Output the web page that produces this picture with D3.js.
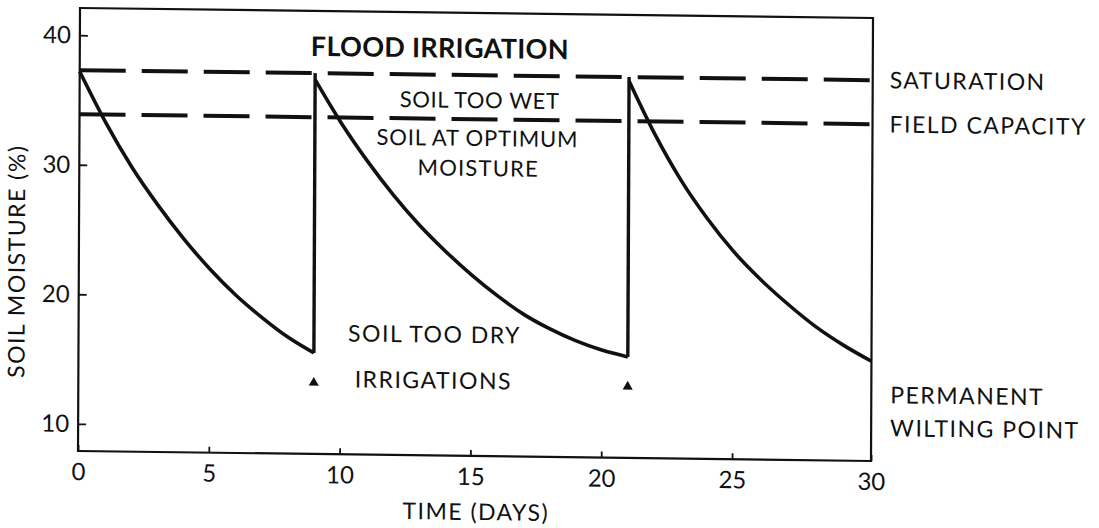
<!DOCTYPE html>
<html>
<head>
<meta charset="utf-8">
<script src="https://cdn.jsdelivr.net/npm/d3@7"></script>
<style>
  html, body { margin: 0; padding: 0; background: #fff; }
  svg { display: block; }
  text { font-family: Lato, "Open Sans", sans-serif; fill: #111; }
</style>
</head>
<body>
<div id="chart"></div>
<script>
// ---- data ----
const xTicks = [0, 5, 10, 15, 20, 25, 30];
const yTicks = [10, 20, 30, 40];
const saturation = 37.3;
const fieldCapacity = 33.9;
const irrigationDays = [9, 21];
const irrigationMarkerLevel = 13.4;

const cycle1Days  = [0, 1, 2, 3, 4, 5, 6, 7, 8, 9];
const cycle1Moist = [37.2, 33.3, 29.9, 27.0, 24.4, 22.1, 20.1, 18.4, 16.9, 15.7];
const cycle2Days  = [9, 10, 11, 12, 13, 14, 15, 16, 17, 18, 19, 20, 21];
const cycle2Moist = [36.8, 33.5, 30.6, 28.0, 25.7, 23.7, 21.9, 20.3, 18.9, 17.8, 16.9, 16.2, 15.7];
const cycle3Days  = [21, 22, 23, 24, 25, 26, 27, 28, 29, 30];
const cycle3Moist = [37.0, 32.9, 29.4, 26.5, 24.0, 21.8, 19.9, 18.2, 16.8, 15.6];

// ---- layout ----
const W = 1099, H = 528;
const pw = 793, ph = 443;
const FONT = "Lato, 'Open Sans', sans-serif";

const svg = d3.select("#chart").append("svg")
  .attr("width", W).attr("height", H);
svg.append("rect").attr("width", W).attr("height", H).attr("fill", "#fff");

// slight shear to match the scanned figure
const g = svg.append("g")
  .attr("transform", "matrix(1,0.0126,-0.0045,1,80,8)");

const x = d3.scaleLinear().domain([0, 25, 30]).range([0, 654, pw]);
const y = d3.scaleLinear().domain([7.9, 42.1]).range([ph, 0]);

// frame
g.append("rect").attr("x", 0).attr("y", 0).attr("width", pw).attr("height", ph)
  .attr("fill", "none").attr("stroke", "#111").attr("stroke-width", 2.2);

// axes
const yAxis = g.append("g")
  .call(d3.axisLeft(y).tickValues(yTicks).tickSizeInner(-8).tickSizeOuter(0).tickPadding(9));
const xAxis = g.append("g").attr("transform", `translate(0,${ph})`)
  .call(d3.axisBottom(x).tickValues(xTicks).tickSizeInner(-6).tickSizeOuter(0).tickPadding(12));
[xAxis, yAxis].forEach(a => {
  a.select(".domain").remove();
  a.selectAll(".tick line").attr("stroke", "#111").attr("stroke-width", 1.8);
  a.selectAll(".tick text").style("font-family", FONT)
    .style("font-size", "24px").attr("fill", "#111");
});

// dashed reference lines
[saturation, fieldCapacity].forEach(v => {
  g.append("line").attr("x1", x(0)).attr("x2", pw).attr("y1", y(v)).attr("y2", y(v))
    .attr("stroke", "#111").attr("stroke-width", 4).attr("stroke-dasharray", "46 16");
});

// moisture curves
const line = d3.line().x(d => x(d[0])).y(d => y(d[1])).curve(d3.curveMonotoneX);
[[cycle1Days, cycle1Moist], [cycle2Days, cycle2Moist], [cycle3Days, cycle3Moist]].forEach(([ds, ms]) => {
  g.append("path").datum(ds.map((d, i) => [d, ms[i]]))
    .attr("d", line).attr("fill", "none").attr("stroke", "#111")
    .attr("stroke-width", 3.6).attr("stroke-linejoin", "round");
});

// irrigation jumps (vertical lines)
const ends = [cycle1Moist[cycle1Moist.length - 1], cycle2Moist[cycle2Moist.length - 1]];
irrigationDays.forEach((d, i) => {
  g.append("line").attr("x1", x(d)).attr("x2", x(d))
    .attr("y1", y(ends[i])).attr("y2", y(saturation))
    .attr("stroke", "#111").attr("stroke-width", 3.4);
});

// irrigation markers
g.selectAll(".tri").data(irrigationDays).enter().append("path")
  .attr("transform", d => `translate(${x(d)},${y(irrigationMarkerLevel)})`)
  .attr("d", d3.symbol().type(d3.symbolTriangle).size(44))
  .attr("fill", "#111");

// annotations
function label(txt, u, v, size, anchor, weight, ls) {
  return g.append("text").attr("x", u).attr("y", v).text(txt)
    .attr("text-anchor", anchor || "middle")
    .style("font-size", size + "px").style("font-weight", weight || "normal")
    .style("letter-spacing", (ls || 0) + "px");
}
label("FLOOD IRRIGATION", 360, 45, 27, "middle", "bold", 0.3);
label("SOIL TOO WET", 400, 95, 22, "middle", "normal", 0.6);
label("SOIL AT OPTIMUM", 398, 133, 22, "middle", "normal", 0.8);
label("MOISTURE", 399, 163, 22, "middle", "normal", 1.2);
label("SOIL TOO DRY", 356, 330, 23, "middle", "normal", 1.5);
label("IRRIGATIONS", 355, 376, 23, "middle", "normal", 1.5);
label("SATURATION", pw + 17, y(saturation) + 8, 23, "start", "normal", 1.5);
label("FIELD CAPACITY", pw + 17, y(fieldCapacity) + 8, 23, "start", "normal", 1.5);
label("PERMANENT", pw + 19, 385, 23, "start", "normal", 1.5);
label("WILTING POINT", pw + 19, 418, 23, "start", "normal", 1.5);

// axis titles
label("TIME (DAYS)", 398, 507, 23, "middle", "normal", 1.5);
g.append("text").attr("transform", `translate(-54,254) rotate(-90)`)
  .attr("text-anchor", "middle").style("font-size", "23px").style("letter-spacing", "1.5px")
  .text("SOIL MOISTURE (%)");
</script>
</body>
</html>
